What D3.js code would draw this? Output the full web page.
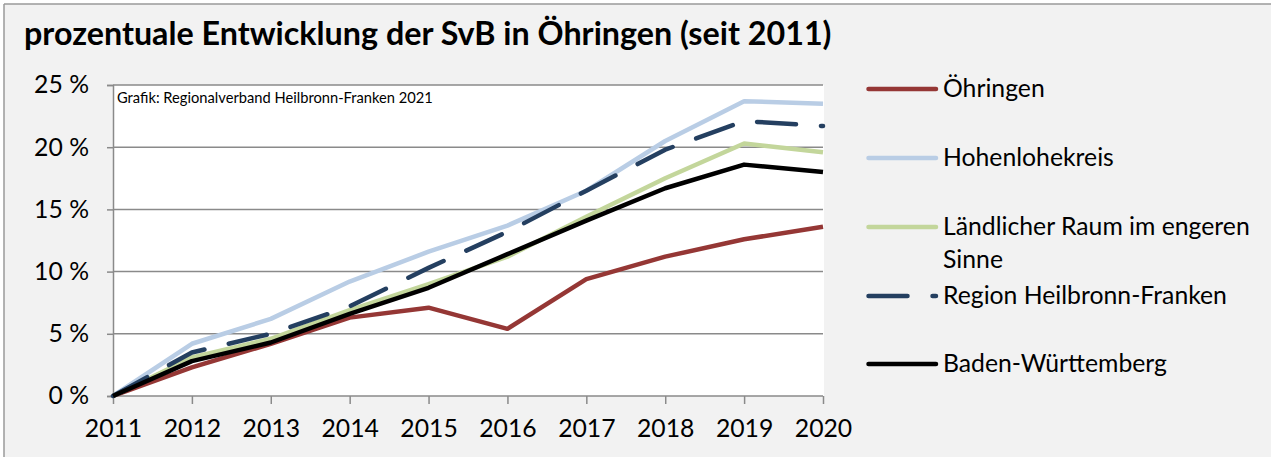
<!DOCTYPE html>
<html>
<head>
<meta charset="utf-8">
<script src="https://cdn.jsdelivr.net/npm/d3@7"></script>
<style>
  html, body { margin: 0; padding: 0; background: #ffffff; }
  svg { display: block; }
  text { font-family: Lato, "Open Sans", sans-serif; fill: #000; }
</style>
</head>
<body>
<div id="chart"></div>
<script>
// ---- data ----
const years = [2011, 2012, 2013, 2014, 2015, 2016, 2017, 2018, 2019, 2020];
const oehringen = [0, 2.3, 4.2, 6.3, 7.1, 5.4, 9.4, 11.2, 12.6, 13.6];
const hohenlohekreis = [0, 4.2, 6.2, 9.2, 11.6, 13.7, 16.5, 20.5, 23.7, 23.5];
const laendlicherRaum = [0, 3.1, 4.6, 6.9, 9.0, 11.2, 14.4, 17.5, 20.3, 19.6];
const regionHNF = [0, 3.5, 5.0, 7.2, 10.3, 13.2, 16.5, 19.8, 22.1, 21.7];
const badenWuerttemberg = [0, 2.8, 4.3, 6.6, 8.7, 11.4, 14.1, 16.7, 18.6, 18.0];
const yTicks = [0, 5, 10, 15, 20, 25];
const seriesNames = ["Öhringen", "Hohenlohekreis", "Ländlicher Raum im engeren|Sinne", "Region Heilbronn-Franken", "Baden-Württemberg"];
const titleText = "prozentuale Entwicklung der SvB in Öhringen (seit 2011)";
const noteText = "Grafik: Regionalverband Heilbronn-Franken 2021";

const series = [
  { name: seriesNames[0], values: oehringen, color: "#953735", dash: null },
  { name: seriesNames[1], values: hohenlohekreis, color: "#b9cde5", dash: null },
  { name: seriesNames[2], values: laendlicherRaum, color: "#c3d69b", dash: null },
  { name: seriesNames[3], values: regionHNF, color: "#243f60", dash: "39,25" },
  { name: seriesNames[4], values: badenWuerttemberg, color: "#000000", dash: null }
];

const W = 1271, H = 457;
const plot = { left: 113, right: 823, top: 85, bottom: 396 };

const svg = d3.select("#chart").append("svg").attr("width", W).attr("height", H);

// background + border
svg.append("rect").attr("x", 4).attr("y", 4).attr("width", W - 4).attr("height", H - 4).attr("fill", "#f2f2f2");
svg.append("line").attr("x1", 4).attr("x2", W).attr("y1", 4).attr("y2", 4).attr("stroke", "#9a9a9a").attr("stroke-width", 1.5);
svg.append("line").attr("x1", 4).attr("x2", 4).attr("y1", 4).attr("y2", H).attr("stroke", "#9a9a9a").attr("stroke-width", 1.5);

function fit(sel, target) {
  const fs = parseFloat(sel.attr("font-size"));
  const w = sel.node().getComputedTextLength();
  const nfs = fs * target / w;
  sel.attr("font-size", nfs);
  return nfs;
}

// title
const title = svg.append("text").attr("x", 24).attr("y", 45)
  .attr("font-size", 27).attr("font-weight", "bold").text(titleText);
fit(title, 808);

// scales
const x = d3.scalePoint().domain(years).range([plot.left, plot.right]);
const y = d3.scaleLinear().domain([0, 25]).range([plot.bottom, plot.top]);

// plot area
svg.append("rect").attr("x", plot.left).attr("y", plot.top)
  .attr("width", plot.right - plot.left + 1).attr("height", plot.bottom - plot.top)
  .attr("fill", "#ffffff");

// gridlines
svg.append("g").selectAll("line").data(yTicks.filter(d => d > 0)).join("line")
  .attr("x1", plot.left).attr("x2", plot.right)
  .attr("y1", d => y(d)).attr("y2", d => y(d))
  .attr("stroke", "#8a8a8a").attr("stroke-width", 1.5);

// measure axis font size from legend text
const probe = svg.append("text").attr("font-size", 24).text("Region Heilbronn-Franken");
const axisFs = fit(probe, 284);
probe.remove();

// y axis
const yAxis = d3.axisLeft(y).tickValues(yTicks).tickSize(6).tickPadding(6)
  .tickFormat(d => d + " %");
const gy = svg.append("g").attr("transform", `translate(${plot.left},0)`).call(yAxis);
gy.select(".domain").attr("stroke", "#8a8a8a").attr("stroke-width", 1.5);
gy.selectAll(".tick line").attr("stroke", "#8a8a8a").attr("stroke-width", 1.5);
gy.selectAll(".tick text").attr("font-size", axisFs).attr("font-family", "Lato, sans-serif")
  .attr("fill", "#000").attr("x", -24).attr("dy", "0.32em");

// x axis
const xAxis = d3.axisBottom(x).tickSize(8).tickPadding(16).tickFormat(d => String(d));
const gx = svg.append("g").attr("transform", `translate(0,${plot.bottom})`).call(xAxis);
gx.select(".domain").attr("stroke", "#8a8a8a").attr("stroke-width", 1.5).attr("d", `M${plot.left},0H${plot.right}`);
gx.selectAll(".tick line").attr("stroke", "#8a8a8a").attr("stroke-width", 1.5);
gx.selectAll(".tick text").attr("font-size", axisFs).attr("font-family", "Lato, sans-serif")
  .attr("fill", "#000").attr("y", 41).attr("dy", 0);

// note
const note = svg.append("text").attr("x", 117).attr("y", 103).attr("font-size", 13).text(noteText);
fit(note, 316);

// lines
const line = d3.line().x((d, i) => x(years[i])).y(d => y(d));
const gl = svg.append("g");
series.forEach(s => {
  gl.append("path").datum(s.values).attr("d", line)
    .attr("fill", "none").attr("stroke", s.color).attr("stroke-width", 4.5)
    .attr("stroke-linejoin", "round")
    .attr("stroke-linecap", s.dash ? "round" : "butt")
    .attr("stroke-dasharray", s.dash);
});

// legend
const legendY = [89, 158, 227, 296, 364];
const lg = svg.append("g");
series.forEach((s, i) => {
  const ly = legendY[i];
  lg.append("line").attr("x1", 868.5).attr("x2", 936).attr("y1", ly).attr("y2", ly)
    .attr("stroke", s.color).attr("stroke-width", 4.5).attr("stroke-linecap", "round")
    .attr("stroke-dasharray", s.dash);
  const parts = s.name.split("|");
  parts.forEach((p, j) => {
    lg.append("text").attr("x", 943).attr("y", ly + 8 + j * 33)
      .attr("font-size", axisFs).text(p);
  });
});
</script>
</body>
</html>
